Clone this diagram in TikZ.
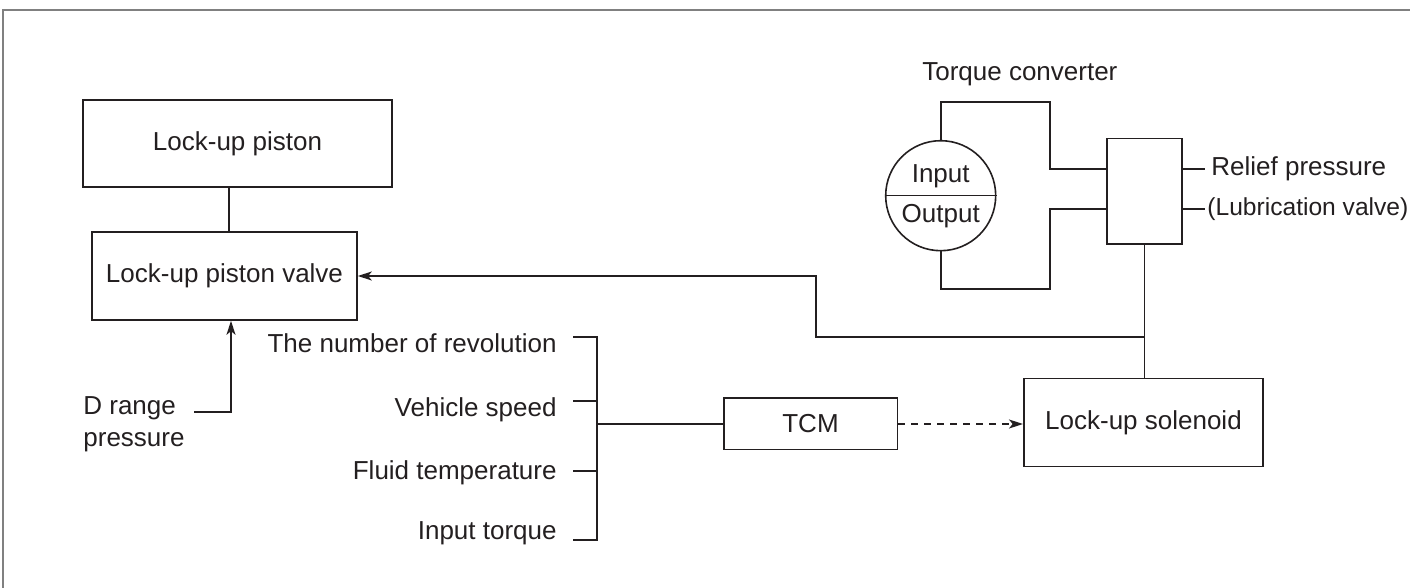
\documentclass[tikz,border=0pt]{standalone}
\usepackage{fontspec}
\setmainfont{Liberation Sans}
\usetikzlibrary{positioning, arrows.meta}
\definecolor{Ink}{HTML}{231F20}
\definecolor{Frame}{HTML}{808080}
\tikzset{
    blocknode/.style={rectangle, draw=Ink, line width=0.8pt, inner sep=0pt, text=Ink, align=center, font=\fontsize{13pt}{16pt}\selectfont},
    txtnode/.style={inner sep=0pt, text=Ink, font=\fontsize{13pt}{16pt}\selectfont},
    wire/.style={draw=Ink, line width=0.8pt},
}

\begin{document}
\begin{tikzpicture}[
        x=0.5pt, y=-0.5pt,
        % Arrows
        arr/.style={wire, -{Stealth[length=7pt, width=4.5pt, inset=1.8pt]}},
        dasharr/.style={arr, dash pattern=on 3.5pt off 3pt},
        % Page frame
        frame/.style={draw=Frame, line width=1pt}
    ]
        \useasboundingbox (0,0) rectangle (1410,588);
        \draw[frame] (3,588) -- (3,10) -- (1410,10);

        % 1. Piston and piston valve
        \node[blocknode, minimum width=154.5pt, minimum height=43.5pt] (piston) at (237.5,143.5) {Lock-up piston};
        \node[blocknode, minimum width=132.5pt, minimum height=44pt] (valve) at (224.5,276) {Lock-up piston valve};
        \coordinate (pv_link) at ([xshift=2.25pt]valve.north);
        \draw[wire] (pv_link) -- (pv_link |- piston.south);

        % D range pressure into the valve
        \node[txtnode, align=left, anchor=west] (drange) at (83,424) {D range\\pressure};
        \coordinate (drange_out) at (194,412);
        \coordinate (valve_in) at ([xshift=3.25pt]valve.south);
        \draw[arr] (drange_out) -| (valve_in);

        % 2. Signals into the TCM
        \foreach \name/\txt/\ly/\ty in {rev/The number of revolution/343/337, spd/Vehicle speed/410/401,
                tmp/Fluid temperature/473/471, trq/Input torque/533/540} {
            \node[txtnode, anchor=east] (\name) at (557,\ly) {\txt};
            \coordinate (\name_t) at (573,\ty);
        }
        \coordinate (brk_top) at (597,337);
        \coordinate (brk_bot) at (597,540);
        \draw[wire] (rev_t) -- (brk_top) -- (brk_bot) -- (trq_t);
        \draw[wire] (spd_t) -- (spd_t -| brk_top);
        \draw[wire] (tmp_t) -- (tmp_t -| brk_top);

        \node[blocknode, minimum width=86.8pt, minimum height=25.7pt] (tcm) at (810.5,424) {TCM};
        \draw[wire] (brk_top |- tcm.west) -- (tcm.west);

        % TCM drives the solenoid
        \node[blocknode, minimum width=119.7pt, minimum height=44pt] (sol) at (1143.5,422.7) {Lock-up solenoid};
        \draw[dasharr] (tcm.east) -- (tcm.east -| sol.west);

        % 3. Torque converter
        \node[circle, draw=Ink, line width=0.8pt, minimum size=55pt, inner sep=0pt] (tc) at (940.7,195.7) {};
        \draw[wire] (tc.west) -- (tc.east);
        \node[txtnode] (tc_in) at (940.7,176) {Input};
        \node[txtnode] (tc_out) at (940.7,216) {Output};
        \node[txtnode, above=27pt of tc, xshift=39.6pt] (tc_lbl) {Torque converter};

        % Relief / lubrication valve
        \node[blocknode, minimum width=37.5pt, minimum height=52.8pt] (relief) at (1144.5,191.5) {};
        \coordinate (tc_top) at (1050,102);
        \coordinate (tc_bot) at (1050,289);
        \draw[wire] (tc.north) |- (tc_top) |- ([yshift=11.25pt]relief.west);
        \draw[wire] (tc.south) |- (tc_bot) |- ([yshift=-8.75pt]relief.west);

        \node[txtnode, anchor=west, inner xsep=3pt] (relief_txt) at (1205,169) {Relief pressure};
        \node[txtnode, anchor=west, inner xsep=1pt, font=\fontsize{12.3pt}{15pt}\selectfont] (lub_txt) at (1205,209) {(Lubrication valve)};
        \draw[wire] ([yshift=11.25pt]relief.east) -- (relief_txt.west);
        \draw[wire] ([yshift=-8.75pt]relief.east) -- (lub_txt.west);

        % 4. Pressure back to the piston valve
        \coordinate (fb_bend) at (815.7,337);
        \draw[wire] (relief.south) -- (relief.south |- sol.north);
        \draw[arr] (relief.south |- fb_bend) -- (fb_bend) |- (valve.east);

    \end{tikzpicture}
\end{document}
